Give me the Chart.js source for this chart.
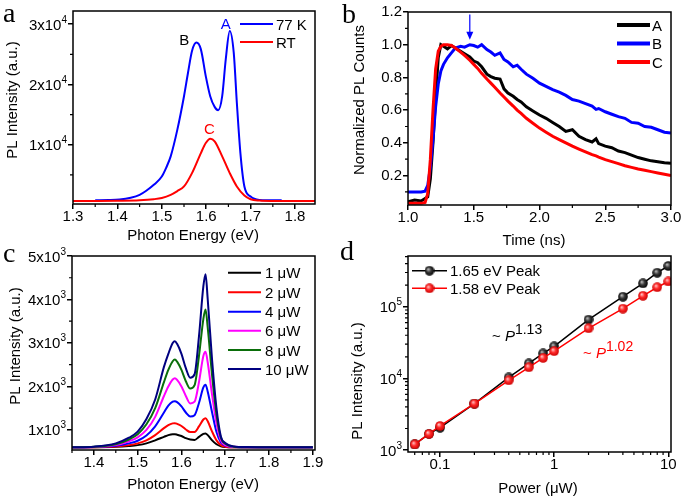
<!DOCTYPE html>
<html>
<head>
<meta charset="utf-8">
<title>PL spectra and dynamics</title>
<script src="https://cdn.jsdelivr.net/npm/chart.js@4.4.1/dist/chart.umd.min.js"></script>
<style>
  body { margin: 0; background: #fff; }
  #fig { position: relative; width: 685px; height: 500px; overflow: hidden; background: #fff; }
  #fig canvas { position: absolute; }
</style>
</head>
<body>
<div id="fig">
  <canvas id="chartA" width="340" height="250" style="left:0;top:0"></canvas>
  <canvas id="chartB" width="345" height="250" style="left:340px;top:0"></canvas>
  <canvas id="chartC" width="340" height="260" style="left:0;top:240px"></canvas>
  <canvas id="chartD" width="345" height="260" style="left:340px;top:240px"></canvas>
</div>
<script>
const FONT = "'Liberation Sans', Arial, Helvetica, sans-serif";
const SERIF = "'Liberation Serif', 'Times New Roman', serif";

// ---- a: PL spectra at 77 K and room temperature ----
const aEnergy77 = [1.35, 1.38, 1.405, 1.43, 1.45, 1.465, 1.482, 1.50, 1.51, 1.52, 1.535, 1.55, 1.559, 1.568, 1.578, 1.588, 1.599, 1.609, 1.619, 1.627, 1.636, 1.644, 1.653, 1.662, 1.669, 1.677, 1.686, 1.70, 1.72, 1.74, 1.77];
const aPL77 = [780, 810, 900, 1200, 1670, 2350, 3330, 4720, 6200, 8060, 12500, 18050, 21940, 25560, 26950, 25830, 21390, 18050, 16280, 15720, 18050, 24170, 28890, 25280, 16940, 8610, 3060, 1390, 830, 780, 760];
const aEnergyRT = [1.30, 1.35, 1.40, 1.45, 1.482, 1.50, 1.52, 1.535, 1.55, 1.568, 1.588, 1.599, 1.609, 1.619, 1.636, 1.653, 1.669, 1.686, 1.70, 1.72, 1.75, 1.80, 1.845];
const aPLRT = [650, 660, 690, 770, 944, 1150, 1670, 2300, 3060, 5280, 8610, 10280, 11000, 10560, 8060, 5280, 3060, 1560, 944, 720, 650, 640, 640];
const aXTicks = [1.3, 1.4, 1.5, 1.6, 1.7, 1.8];
const aXLabels = ['1.3', '1.4', '1.5', '1.6', '1.7', '1.8'];
const aXMinor = [1.35, 1.45, 1.55, 1.65, 1.75];
const aYTicks = [10000, 20000, 30000];
const aYLabels = [['1x10', '4'], ['2x10', '4'], ['3x10', '4']];
const aYMinor = [5000, 15000, 25000];

// ---- b: normalized PL decay ----
const bTime = [1.00, 1.05, 1.10, 1.13, 1.15, 1.17, 1.19, 1.21, 1.23, 1.25, 1.27, 1.30, 1.33, 1.36, 1.40, 1.43, 1.47, 1.50, 1.53, 1.56, 1.60, 1.63, 1.66, 1.70, 1.73, 1.76, 1.80, 1.83, 1.86, 1.90, 1.95, 2.00, 2.05, 2.10, 2.15, 2.20, 2.25, 2.30, 2.35, 2.40, 2.43, 2.45, 2.50, 2.55, 2.60, 2.65, 2.70, 2.75, 2.80, 2.85, 2.90, 2.95, 3.00];
const bA = [0.04, 0.05, 0.045, 0.06, 0.07, 0.18, 0.40, 0.68, 0.92, 1.0, 0.99, 0.975, 0.995, 0.98, 0.96, 0.945, 0.925, 0.90, 0.89, 0.865, 0.82, 0.805, 0.795, 0.79, 0.73, 0.705, 0.685, 0.665, 0.65, 0.62, 0.595, 0.57, 0.55, 0.525, 0.50, 0.47, 0.48, 0.44, 0.42, 0.405, 0.425, 0.395, 0.38, 0.37, 0.35, 0.34, 0.325, 0.31, 0.30, 0.29, 0.285, 0.278, 0.275];
const bB = [0.10, 0.10, 0.10, 0.105, 0.14, 0.25, 0.42, 0.62, 0.76, 0.84, 0.88, 0.92, 0.95, 0.98, 0.99, 0.985, 1.0, 0.995, 0.985, 1.0, 0.97, 0.955, 0.935, 0.95, 0.91, 0.895, 0.865, 0.875, 0.85, 0.82, 0.795, 0.765, 0.745, 0.725, 0.71, 0.69, 0.665, 0.655, 0.64, 0.625, 0.605, 0.61, 0.59, 0.575, 0.56, 0.55, 0.525, 0.52, 0.50, 0.495, 0.48, 0.465, 0.46];
const bC = [0.03, 0.03, 0.03, 0.035, 0.09, 0.30, 0.60, 0.85, 0.96, 0.99, 1.0, 1.0, 0.995, 0.98, 0.955, 0.935, 0.905, 0.88, 0.855, 0.825, 0.79, 0.765, 0.74, 0.705, 0.68, 0.655, 0.625, 0.60, 0.58, 0.55, 0.52, 0.49, 0.465, 0.44, 0.42, 0.40, 0.38, 0.362, 0.345, 0.328, 0.32, 0.313, 0.297, 0.285, 0.273, 0.26, 0.25, 0.24, 0.232, 0.224, 0.216, 0.208, 0.20];
const bXTicks = [1.0, 1.5, 2.0, 2.5, 3.0];
const bXLabels = ['1.0', '1.5', '2.0', '2.5', '3.0'];
const bXMinor = [1.25, 1.75, 2.25, 2.75];
const bYTicks = [0.2, 0.4, 0.6, 0.8, 1.0, 1.2];
const bYLabels = ['0.2', '0.4', '0.6', '0.8', '1.0', '1.2'];
const bYMinor = [0.1, 0.3, 0.5, 0.7, 0.9, 1.1];

// ---- c: power dependent spectra ----
const cEnergy = [1.35, 1.40, 1.45, 1.48, 1.50, 1.52, 1.54, 1.56, 1.57, 1.58, 1.585, 1.59, 1.60, 1.61, 1.62, 1.63, 1.64, 1.65, 1.655, 1.66, 1.67, 1.68, 1.69, 1.70, 1.72, 1.75, 1.80, 1.90];
const c1uW = [600, 602, 612, 630, 650, 690, 760, 840, 880, 900, 900, 890, 860, 810, 780, 770, 840, 910, 920, 880, 760, 670, 625, 608, 600, 600, 600, 600];
const c2uW = [600, 603, 620, 650, 690, 760, 880, 1040, 1110, 1150, 1155, 1140, 1090, 1010, 950, 950, 1080, 1240, 1270, 1200, 960, 760, 650, 615, 602, 600, 600, 600];
const c4uW = [600, 605, 635, 690, 750, 870, 1080, 1400, 1560, 1650, 1660, 1640, 1540, 1400, 1310, 1340, 1620, 1980, 2040, 1880, 1400, 950, 710, 640, 605, 600, 600, 600];
const c6uW = [600, 607, 650, 740, 830, 1000, 1300, 1780, 2000, 2160, 2190, 2150, 2000, 1780, 1610, 1650, 2100, 2700, 2800, 2550, 1800, 1150, 760, 650, 610, 602, 600, 600];
const c8uW = [600, 610, 670, 780, 900, 1130, 1500, 2100, 2380, 2580, 2620, 2570, 2380, 2120, 1950, 2030, 2700, 3550, 3770, 3350, 2250, 1350, 820, 680, 615, 603, 600, 600];
const c10uW = [600, 615, 690, 820, 960, 1250, 1700, 2450, 2750, 3000, 3040, 2980, 2750, 2420, 2200, 2280, 3150, 4300, 4580, 4000, 2600, 1500, 850, 700, 620, 605, 600, 600];
const cXTicks = [1.4, 1.5, 1.6, 1.7, 1.8, 1.9];
const cXLabels = ['1.4', '1.5', '1.6', '1.7', '1.8', '1.9'];
const cXMinor = [1.35, 1.45, 1.55, 1.65, 1.75, 1.85];
const cYTicks = [1000, 2000, 3000, 4000, 5000];
const cYLabels = [['1x10', '3'], ['2x10', '3'], ['3x10', '3'], ['4x10', '3'], ['5x10', '3']];
const cYMinor = [1500, 2500, 3500, 4500];

// ---- d: integrated intensity vs power ----
const dPower = [0.06, 0.08, 0.1, 0.2, 0.4, 0.6, 0.8, 1, 2, 4, 6, 8, 10];
const dPeak165 = [1200, 1680, 2050, 4450, 10300, 16200, 22300, 28000, 66000, 138000, 212000, 298000, 370000];
const dPeak158 = [1200, 1680, 2170, 4450, 9400, 14300, 19300, 24000, 50000, 94000, 142000, 187000, 225000];
const dXTicks = [0.1, 1, 10];
const dXLabels = ['0.1', '1', '10'];
const dXMinor = [0.06, 0.07, 0.08, 0.09, 0.2, 0.3, 0.4, 0.5, 0.6, 0.7, 0.8, 0.9, 2, 3, 4, 5, 6, 7, 8, 9];
const dYTicks = [1000, 10000, 100000];
const dYLabels = [['10', '3'], ['10', '4'], ['10', '5']];
const dYMinor = [2000, 3000, 4000, 5000, 6000, 7000, 8000, 9000, 20000, 30000, 40000, 50000, 60000, 70000, 80000, 90000, 200000, 300000, 400000, 500000];

function xy(xs, ys) {
  return xs.map((x, i) => ({ x: x, y: ys[i] }));
}

// draws a row of text runs (plain / italic / raised), returns the width
function drawRuns(ctx, x, y, parts, color, measureOnly) {
  let cx = x;
  ctx.textAlign = 'left';
  ctx.textBaseline = 'alphabetic';
  ctx.fillStyle = color;
  parts.forEach(([t, size, rise, italic]) => {
    ctx.font = (italic ? 'italic ' : '') + size + 'px ' + FONT;
    if (!measureOnly) ctx.fillText(t, cx, y - rise);
    cx += ctx.measureText(t).width;
  });
  return cx - x;
}

function axis(type, min, max, majors, labels, size, horizontal) {
  return {
    type: type,
    min: min,
    max: max,
    afterBuildTicks: (ax) => { ax.ticks = majors.map(v => ({ value: v })); },
    afterFit: (ax) => { if (horizontal) ax.height = size; else ax.width = size; },
    ticks: {
      autoSkip: false,
      maxRotation: 0,
      padding: horizontal ? 0 : 1,
      color: '#000',
      font: { family: FONT, size: 15, lineHeight: 1 },
      callback: (v, i) => (labels ? labels[i] : '')
    },
    grid: { drawOnChartArea: false, drawTicks: true, tickLength: 5, color: '#000', lineWidth: 1.5 },
    border: { display: false }
  };
}

function decor(spec) {
  return {
    id: 'decor',
    afterDatasetsDraw(chart) {
      const ctx = chart.ctx;
      const ca = chart.chartArea;
      const sx = chart.scales.x, sy = chart.scales.y;
      ctx.save();

      // box round the plot
      ctx.strokeStyle = '#000';
      ctx.lineWidth = 1.5;
      ctx.strokeRect(ca.left, ca.top, ca.right - ca.left, ca.bottom - ca.top);

      // minor ticks
      ctx.lineWidth = 1.2;
      ctx.beginPath();
      spec.xMinor.forEach(v => {
        if (v < sx.min || v > sx.max) return;
        const p = sx.getPixelForValue(v);
        ctx.moveTo(p, ca.bottom);
        ctx.lineTo(p, ca.bottom + 3);
      });
      spec.yMinor.forEach(v => {
        if (v < sy.min || v > sy.max) return;
        const p = sy.getPixelForValue(v);
        ctx.moveTo(ca.left, p);
        ctx.lineTo(ca.left - 3, p);
      });
      ctx.stroke();

      // y tick labels with powers of ten
      if (spec.yLabels) {
        spec.yLabels.values.forEach((v, i) => {
          const [main, sup] = spec.yLabels.texts[i];
          const parts = [[main, 15, 0], [sup, 10, 7]];
          const w = drawRuns(ctx, 0, 0, parts, '#000', true);
          const p = sy.getPixelForValue(v);
          drawRuns(ctx, ca.left - 6 - w, p + 5.5, parts, '#000');
        });
      }

      // legend
      if (spec.legend) {
        const L = spec.legend;
        L.items.forEach((di, k) => {
          const ds = chart.data.datasets[di];
          const yy = L.rows[k];
          ctx.strokeStyle = ds.borderColor;
          ctx.lineWidth = L.lineWidth;
          ctx.beginPath();
          ctx.moveTo(L.x0, yy);
          ctx.lineTo(L.x1, yy);
          ctx.stroke();
          if (L.marker) {
            const img = ds.pointStyle;
            ctx.drawImage(img, (L.x0 + L.x1) / 2 - img.width / 2, yy - img.height / 2);
          }
          drawRuns(ctx, L.tx, yy + 5.5, [[ds.label, 15, 0]], '#000');
        });
      }

      // text notes inside the plot
      (spec.notes || []).forEach(n => {
        let x = n.x;
        if (n.center) x -= drawRuns(ctx, 0, 0, n.parts, n.color, true) / 2;
        drawRuns(ctx, x, n.y, n.parts, n.color);
      });

      // arrow (panel b)
      if (spec.arrow) {
        const A = spec.arrow;
        const px = sx.getPixelForValue(A.x);
        const p0 = sy.getPixelForValue(A.y0), p1 = sy.getPixelForValue(A.y1);
        ctx.strokeStyle = A.color;
        ctx.fillStyle = A.color;
        ctx.lineWidth = 1.2;
        ctx.beginPath();
        ctx.moveTo(px, p0);
        ctx.lineTo(px, p1 - 6);
        ctx.stroke();
        ctx.beginPath();
        ctx.moveTo(px - 3.5, p1 - 8);
        ctx.lineTo(px + 3.5, p1 - 8);
        ctx.lineTo(px, p1);
        ctx.closePath();
        ctx.fill();
      }

      // axis titles and panel letter
      ctx.fillStyle = '#000';
      ctx.font = '15px ' + FONT;
      ctx.textAlign = 'center';
      ctx.textBaseline = 'middle';
      ctx.fillText(spec.xTitle.t, spec.xTitle.x, spec.xTitle.y);
      ctx.save();
      ctx.translate(spec.yTitle.x, spec.yTitle.y);
      ctx.rotate(-Math.PI / 2);
      ctx.fillText(spec.yTitle.t, 0, 0);
      ctx.restore();
      ctx.font = '28px ' + SERIF;
      ctx.textAlign = 'left';
      ctx.textBaseline = 'alphabetic';
      ctx.fillText(spec.letter.t, spec.letter.x, spec.letter.y);

      ctx.restore();
    }
  };
}

function baseOptions(pad, xScale, yScale) {
  return {
    responsive: false,
    animation: false,
    events: [],
    layout: { padding: pad },
    plugins: { legend: { display: false }, tooltip: { enabled: false } },
    scales: { x: xScale, y: yScale }
  };
}

function lineSet(label, xs, ys, color, width, order, smooth) {
  return {
    label: label,
    data: xy(xs, ys),
    borderColor: color,
    backgroundColor: color,
    borderWidth: width,
    pointRadius: 0,
    fill: false,
    order: order,
    tension: smooth ? 0.4 : 0,
    cubicInterpolationMode: smooth ? 'monotone' : 'default'
  };
}

// ---- panel a ----
new Chart(document.getElementById('chartA'), {
  type: 'line',
  data: {
    datasets: [
      lineSet('77 K', aEnergy77, aPL77, '#0000ff', 2, 1, true),
      lineSet('RT', aEnergyRT, aPLRT, '#ff0000', 2, 0, true)
    ]
  },
  options: baseOptions({ left: 0, top: 11, right: 25, bottom: 0 },
    axis('linear', 1.3, 1.845, aXTicks, aXLabels, 46, true),
    axis('linear', 150, 32200, aYTicks, null, 73, false)),
  plugins: [decor({
    xMinor: aXMinor, yMinor: aYMinor,
    yLabels: { values: aYTicks, texts: aYLabels },
    legend: { items: [0, 1], x0: 240, x1: 273, tx: 276, rows: [24, 42], lineWidth: 2 },
    notes: [
      { parts: [['A', 15, 0]], x: 225.7, y: 28.5, color: '#0000ff', center: true },
      { parts: [['B', 15, 0]], x: 184.3, y: 45, color: '#000', center: true },
      { parts: [['C', 15, 0]], x: 209.3, y: 133.5, color: '#ff0000', center: true }
    ],
    xTitle: { t: 'Photon Energy (eV)', x: 193, y: 236 },
    yTitle: { t: 'PL Intensity (a.u.)', x: 12.5, y: 100 },
    letter: { t: 'a', x: 3, y: 22 }
  })]
});

// ---- panel b ----
new Chart(document.getElementById('chartB'), {
  type: 'line',
  data: {
    datasets: [
      lineSet('A', bTime, bA, '#000000', 3, 2, false),
      lineSet('B', bTime, bB, '#0000ff', 3, 1, false),
      lineSet('C', bTime, bC, '#ff0000', 3, 0, false)
    ]
  },
  options: baseOptions({ left: 0, top: 12, right: 14, bottom: 0 },
    axis('linear', 1.0, 3.0, bXTicks, bXLabels, 45, true),
    axis('linear', 0.02, 1.2, bYTicks, bYLabels, 68, false)),
  plugins: [decor({
    xMinor: bXMinor, yMinor: bYMinor,
    legend: { items: [0, 1, 2], x0: 277, x1: 310, tx: 312, rows: [25, 43.5, 62], lineWidth: 4 },
    arrow: { x: 1.47, y0: 1.185, y1: 1.03, color: '#0000ff' },
    xTitle: { t: 'Time (ns)', x: 194, y: 241 },
    yTitle: { t: 'Normalized PL Counts', x: 20, y: 100 },
    letter: { t: 'b', x: 2, y: 23 }
  })]
});

// ---- panel c ----
new Chart(document.getElementById('chartC'), {
  type: 'line',
  data: {
    datasets: [
      lineSet('1 \u03bcW', cEnergy, c1uW, '#000000', 2, 5, true),
      lineSet('2 \u03bcW', cEnergy, c2uW, '#ff0000', 2, 4, true),
      lineSet('4 \u03bcW', cEnergy, c4uW, '#0000ff', 2, 3, true),
      lineSet('6 \u03bcW', cEnergy, c6uW, '#ff00ff', 2, 2, true),
      lineSet('8 \u03bcW', cEnergy, c8uW, '#0a6e0a', 2, 1, true),
      lineSet('10 \u03bcW', cEnergy, c10uW, '#000080', 2, 0, true)
    ]
  },
  options: baseOptions({ left: 0, top: 16, right: 25, bottom: 0 },
    axis('linear', 1.35, 1.905, cXTicks, cXLabels, 50, true),
    axis('linear', 538, 5000, cYTicks, null, 72, false)),
  plugins: [decor({
    xMinor: cXMinor, yMinor: cYMinor,
    yLabels: { values: cYTicks, texts: cYLabels },
    legend: { items: [0, 1, 2, 3, 4, 5], x0: 228, x1: 261, tx: 265, rows: [32.7, 52.3, 71.7, 90.7, 110, 129], lineWidth: 2 },
    xTitle: { t: 'Photon Energy (eV)', x: 193, y: 245 },
    yTitle: { t: 'PL Intensity (a.u.)', x: 16, y: 106 },
    letter: { t: 'c', x: 3, y: 22 }
  })]
});

// ---- panel d ----
function ball(light, mid, dark) {
  const c = document.createElement('canvas');
  c.width = 10;
  c.height = 10;
  const g = c.getContext('2d');
  const grad = g.createRadialGradient(3.6, 3.4, 0.3, 5, 5, 5);
  grad.addColorStop(0, light);
  grad.addColorStop(0.45, mid);
  grad.addColorStop(1, dark);
  g.fillStyle = grad;
  g.beginPath();
  g.arc(5, 5, 4.8, 0, Math.PI * 2);
  g.fill();
  return c;
}
const blackBall = ball('#bdbdbd', '#3a3a3a', '#000000');
const redBall = ball('#ffc4c4', '#ff2a2a', '#c80000');

function markerSet(label, ys, color, img, order) {
  return {
    label: label,
    data: xy(dPower, ys),
    borderColor: color,
    backgroundColor: color,
    borderWidth: 1.5,
    pointStyle: img,
    pointRadius: 5,
    order: order,
    tension: 0
  };
}

new Chart(document.getElementById('chartD'), {
  type: 'line',
  data: {
    datasets: [
      markerSet('1.65 eV Peak', dPeak165, '#000000', blackBall, 1),
      markerSet('1.58 eV Peak', dPeak158, '#ff0000', redBall, 0)
    ]
  },
  options: baseOptions({ left: 0, top: 16, right: 14, bottom: 0 },
    axis('logarithmic', 0.0524, 10.56, dXTicks, dXLabels, 48, true),
    axis('logarithmic', 940, 510000, dYTicks, null, 68, false)),
  plugins: [decor({
    xMinor: dXMinor, yMinor: dYMinor,
    yLabels: { values: dYTicks, texts: dYLabels },
    legend: { items: [0, 1], x0: 72, x1: 107, tx: 110, rows: [30.7, 48.3], lineWidth: 1.5, marker: true },
    notes: [
      { parts: [['~ ', 15, 0], ['P', 15, 0, true], ['1.13', 14, 7]], x: 152, y: 101, color: '#000' },
      { parts: [['~ ', 15, 0], ['P', 15, 0, true], ['1.02', 14, 7]], x: 243, y: 118, color: '#ff0000' }
    ],
    xTitle: { t: 'Power (\u03bcW)', x: 198, y: 249 },
    yTitle: { t: 'PL Intensity (a.u.)', x: 17.5, y: 141 },
    letter: { t: 'd', x: 0, y: 20 }
  })]
});
</script>
</body>
</html>
